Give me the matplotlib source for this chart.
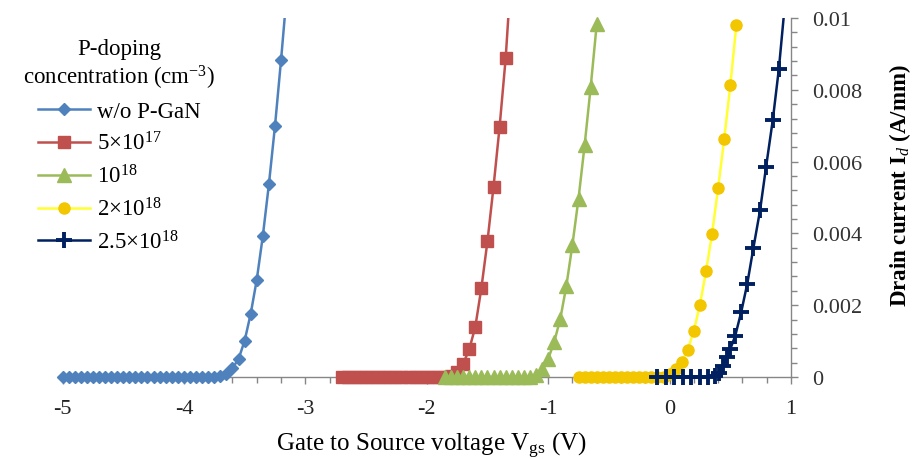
import matplotlib
matplotlib.use('Agg')
import matplotlib.pyplot as plt
from matplotlib.ticker import MultipleLocator

plt.rcParams['font.family'] = 'Liberation Serif'
plt.rcParams['mathtext.fontset'] = 'custom'
plt.rcParams['mathtext.rm'] = 'Liberation Serif'
plt.rcParams['mathtext.it'] = 'Liberation Serif:italic'
plt.rcParams['mathtext.bf'] = 'Liberation Serif:bold'
plt.rcParams['axes.unicode_minus'] = False

# gate voltage (V) and drain current (A/mm)
wo_v = [-5.0, -4.95, -4.9, -4.85, -4.8, -4.75, -4.7, -4.65, -4.6, -4.55,
        -4.5, -4.45, -4.4, -4.35, -4.3, -4.25, -4.2, -4.15, -4.1, -4.05,
        -4.0, -3.95, -3.9, -3.85, -3.8, -3.75, -3.7, -3.65, -3.6, -3.55,
        -3.5, -3.45, -3.4, -3.35, -3.3, -3.25, -3.2, -3.15]
wo_i = [0, 0, 0, 0, 0, 0, 0, 0, 0, 0,
        0, 0, 0, 0, 0, 0, 0, 0, 0, 0,
        0, 0, 0, 0, 0, 0, 0.00002, 0.00008, 0.00025, 0.0005,
        0.00101, 0.00176, 0.00271, 0.00393, 0.00537, 0.00699, 0.00883, 0.0108]

p5e17_v = [-2.7, -2.65, -2.6, -2.55, -2.5, -2.45, -2.4, -2.35, -2.3, -2.25,
           -2.2, -2.15, -2.1, -2.05, -2.0, -1.95, -1.9, -1.85, -1.8, -1.75,
           -1.7, -1.65, -1.6, -1.55, -1.5, -1.45, -1.4, -1.35, -1.3]
p5e17_i = [0, 0, 0, 0, 0, 0, 0, 0, 0, 0,
           0, 0, 0, 0, 0, 0, 0, 0, 0.00003, 0.00015,
           0.00037, 0.00077, 0.0014, 0.00248, 0.00378, 0.0053, 0.00697, 0.00888, 0.0115]

p1e18_v = [-1.85, -1.8, -1.75, -1.7, -1.65, -1.6, -1.55, -1.5, -1.45, -1.4,
           -1.35, -1.3, -1.25, -1.2, -1.15, -1.1, -1.05, -1.0, -0.95, -0.9,
           -0.85, -0.8, -0.75, -0.7, -0.65, -0.6]
p1e18_i = [0, 0, 0, 0, 0, 0, 0, 0, 0, 0,
           0, 0, 0, 0, 0, 0.00005, 0.00022, 0.0005, 0.00098, 0.00162,
           0.00254, 0.00369, 0.00497, 0.00645, 0.00807, 0.00983]

p2e18_v = [-0.75, -0.7, -0.65, -0.6, -0.55, -0.5, -0.45, -0.4, -0.35, -0.3,
           -0.25, -0.2, -0.15, -0.1, -0.05, 0.0, 0.05, 0.1, 0.15, 0.2,
           0.25, 0.3, 0.35, 0.4, 0.45, 0.5, 0.55]
p2e18_i = [0, 0, 0, 0, 0, 0, 0, 0, 0, 0,
           0, 0, 0, 0, 0, 0.00008, 0.00022, 0.00043, 0.00076, 0.00129,
           0.00201, 0.00294, 0.00399, 0.00527, 0.00663, 0.00812, 0.0098]

p25e18_v = [-0.1, -0.03, 0.04, 0.11, 0.18, 0.25, 0.32, 0.37, 0.41, 0.44,
            0.47, 0.5, 0.54, 0.59, 0.64, 0.69, 0.745, 0.795, 0.85, 0.9, 0.95]
p25e18_i = [0, 0, 0, 0, 0, 0, 0, 0.00002, 0.0001, 0.00032,
            0.00055, 0.00078, 0.00114, 0.00181, 0.0026, 0.00359, 0.00464, 0.00586,
            0.00716, 0.00858, 0.0104]

labels = ['w/o P-GaN', '5×10$^{17}$', '10$^{18}$', '2×10$^{18}$', '2.5×10$^{18}$']
x_ticks = [-5, -4, -3, -2, -1, 0, 1]
x_ticklabels = ['-5', '-4', '-3', '-2', '-1', '0', '1']
y_ticks = [0, 0.002, 0.004, 0.006, 0.008, 0.01]
y_ticklabels = ['0', '0.002', '0.004', '0.006', '0.008', '0.01']

xs = [wo_v, p5e17_v, p1e18_v, p2e18_v, p25e18_v]
ys = [wo_i, p5e17_i, p1e18_i, p2e18_i, p25e18_i]
line_colors = ['#4F81BD', '#C0504D', '#9BBB59', '#FFFF33', '#002060']
mark_colors = ['#4F81BD', '#C0504D', '#9BBB59', '#F2C600', '#002060']
markers = ['D', 's', '^', 'o', '+']
msizes = [6, 9, 9.5, 8, 11]
mews = [1, 1, 1, 1, 2.8]

gray = '#868686'
ymax = 0.01

fig = plt.figure(figsize=(9.17, 4.6), dpi=100)
ax = fig.add_axes([62.5 / 917, 82 / 460, 728.5 / 917, 359 / 460])

handles = []
for k in range(len(xs)):
    ln, = ax.plot(xs[k], ys[k], color=line_colors[k], lw=1.8, zorder=3 + k)
    inside = [y <= ymax for y in ys[k]]
    mk, = ax.plot(xs[k], ys[k], ls='none', marker=markers[k], ms=msizes[k],
                  mfc=mark_colors[k], mec=mark_colors[k], mew=mews[k],
                  markevery=inside, clip_on=False, zorder=3 + k)
    handles.append((ln, mk))

ax.set_xlim(-5, 1)
ax.set_ylim(0, ymax)

ax.set_xticks(x_ticks)
ax.set_xticklabels(x_ticklabels)
ax.xaxis.set_minor_locator(MultipleLocator(0.2))

ax.yaxis.tick_right()
ax.set_yticks(y_ticks)
ax.set_yticklabels(y_ticklabels)
ax.yaxis.set_minor_locator(MultipleLocator(0.0004))

ax.tick_params(axis='x', which='major', direction='out', length=5, width=1,
               color=gray, labelsize=16, pad=11, labelcolor='#222222')
ax.tick_params(axis='x', which='minor', direction='out', length=4, width=1, color=gray)
ax.tick_params(axis='y', which='major', direction='out', length=5, width=1,
               color=gray, labelsize=16, pad=10, labelcolor='#333333')
ax.tick_params(axis='y', which='minor', direction='out', length=4, width=1, color=gray)

for side in ['left', 'top']:
    ax.spines[side].set_visible(False)
for side in ['right', 'bottom']:
    ax.spines[side].set_color(gray)
    ax.spines[side].set_linewidth(1)

ax.set_xlabel('Gate to Source voltage V$_{\\mathrm{gs}}$ (V)', fontsize=18)
ax.xaxis.label.set_va('center')
ax.xaxis.set_label_coords(0.507, -0.19)

ax.yaxis.set_label_position('right')
ax.set_ylabel('Drain current I$_{\\mathit{d}}$ (A/mm)', fontsize=16.5, fontweight='bold')
ax.yaxis.label.set_va('center')
ax.yaxis.set_label_coords(1.149, 0.535)

leg = fig.legend(handles, labels, title='P-doping\nconcentration (cm$^{-3}$)',
                 loc='upper left', bbox_to_anchor=(14 / 917, 1 - 30 / 460),
                 frameon=False, fontsize=16.5, title_fontsize=16.5,
                 handlelength=2.3, handletextpad=0.3, labelspacing=0.42,
                 borderaxespad=0)
leg.get_title().set_multialignment('center')

fig.savefig('out.png', dpi=100)
